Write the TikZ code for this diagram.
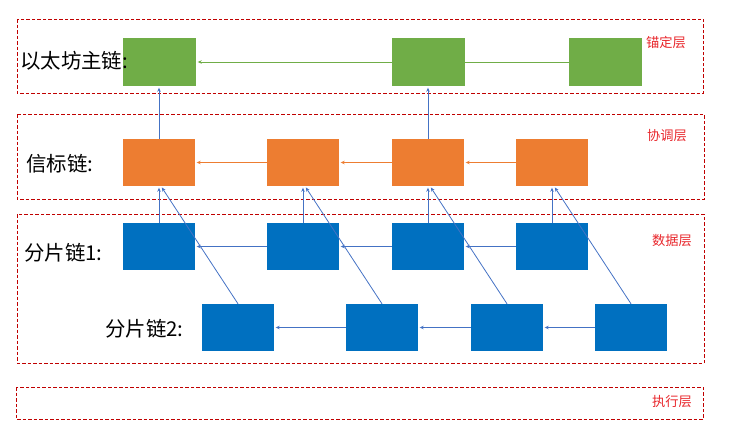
\documentclass[tikz,border=0pt]{standalone}
\usepackage{fontspec}
\newfontfamily\cjk{Noto Sans CJK SC}
\usetikzlibrary{arrows.meta}
\definecolor{gfill}{HTML}{70AD47}
\definecolor{ofill}{HTML}{ED7D31}
\definecolor{bfill}{HTML}{0070C0}
\definecolor{barrow}{HTML}{4472C4}
\definecolor{lred}{HTML}{C00000}
\definecolor{tred}{HTML}{E8262B}
\tikzset{
  blk/.style={minimum width=72bp,minimum height=47bp,inner sep=0pt,draw=none},
  gblk/.style={blk,fill=gfill,minimum width=73bp,minimum height=48bp},
  oblk/.style={blk,fill=ofill},
  bblk/.style={blk,fill=bfill},
  layer/.style={draw=lred,line width=0.9bp,dash pattern=on 3.5bp off 2bp},
  tip/.style={-{Stealth[length=4bp,width=3.5bp]},line width=0.8bp,shorten >=1.5bp},
  garr/.style={tip,draw=gfill},
  oarr/.style={tip,draw=ofill},
  barr/.style={tip,draw=barrow},
  chainlbl/.style={font=\cjk\fontsize{20.5}{24}\selectfont,inner sep=0pt,anchor=west},
  layerlbl/.style={font=\cjk\fontsize{13.3}{16}\selectfont,text=tred,inner sep=0pt,anchor=west}
}
\begin{document}
\begin{tikzpicture}[x=1bp,y=-1bp]
\useasboundingbox (0,0) rectangle (736,432);
% layers
\draw[layer] (17,19) rectangle (703,93);
\draw[layer] (17,114) rectangle (704,199);
\draw[layer] (17,214) rectangle (704,363);
\draw[layer] (16,387) rectangle (703,419);
% green
\node[gblk] (g1) at (159.5,62) {};
\node[gblk] (g2) at (428.5,62) {};
\node[gblk] (g3) at (605.5,62) {};
% orange
\node[oblk] (o1) at (159,162.5) {};
\node[oblk] (o2) at (303,162.5) {};
\node[oblk] (o3) at (428,162.5) {};
\node[oblk] (o4) at (552,162.5) {};
% blue row 1
\node[bblk] (b1) at (159,246.5) {};
\node[bblk] (b2) at (303,246.5) {};
\node[bblk] (b3) at (428,246.5) {};
\node[bblk] (b4) at (552,246.5) {};
% blue row 2
\node[bblk] (c1) at (238,327.5) {};
\node[bblk] (c2) at (382,327.5) {};
\node[bblk] (c3) at (507,327.5) {};
\node[bblk] (c4) at (631,327.5) {};
% horizontal connectors
\draw[gfill,line width=0.8bp] (g3.west) -- (g2.east);
\draw[garr] (g2.west) -- (g1.east);
\draw[oarr] (o2.west) -- (o1.east);
\draw[oarr] (o3.west) -- (o2.east);
\draw[oarr] (o4.west) -- (o3.east);
\draw[barr] (b2.west) -- (b1.east);
\draw[barr] (b3.west) -- (b2.east);
\draw[barr] (b4.west) -- (b3.east);
\draw[barr] (c2.west) -- (c1.east);
\draw[barr] (c3.west) -- (c2.east);
\draw[barr] (c4.west) -- (c3.east);
% vertical connectors
\draw[barr] (o1.north) -- (o1.north |- g1.south);
\draw[barr] (o3.north) -- (o3.north |- g2.south);
\draw[barr] (b1.north) -- (o1.south);
\draw[barr] (b2.north) -- (o2.south);
\draw[barr] (b3.north) -- (o3.south);
\draw[barr] (b4.north) -- (o4.south);
\draw[barr] (c1.north) -- ([xshift=2bp]o1.south);
\draw[barr] (c2.north) -- ([xshift=2bp]o2.south);
\draw[barr] (c3.north) -- ([xshift=2bp]o3.south);
\draw[barr] (c4.north) -- ([xshift=2bp]o4.south);
% chain labels
\node[chainlbl] (l1) at (20,61) {以太坊主链:};
\node[chainlbl] (l2) at (26,164) {信标链:};
\node[chainlbl] (l3) at (24,253) {分片链1:};
\node[chainlbl] (l4) at (105,329) {分片链2:};
% layer labels
\node[layerlbl] (t1) at (646,42) {锚定层};
\node[layerlbl] (t2) at (647,136) {协调层};
\node[layerlbl] (t3) at (652,241) {数据层};
\node[layerlbl] (t4) at (652,402) {执行层};
\end{tikzpicture}
\end{document}
